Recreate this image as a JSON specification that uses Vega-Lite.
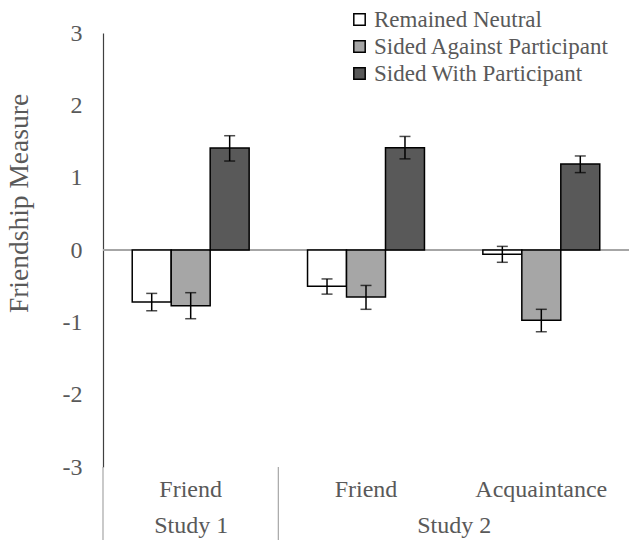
{
  "$schema": "https://vega.github.io/schema/vega-lite/v6.json",
  "width": 526,
  "height": 434,
  "autosize": {"type": "none"},
  "padding": {"left": 103, "top": 33, "right": 0, "bottom": 73},
  "config": {
    "view": {"stroke": null},
    "font": "Liberation Serif",
    "axis": {"labelFont": "Liberation Serif", "titleFont": "Liberation Serif", "labelColor": "#595959", "titleColor": "#595959", "grid": false},
    "legend": {"labelFont": "Liberation Serif"}
  },
  "datasets": {
    "bars": [
      {"cat": "Study 1|Friend", "series": "Remained Neutral", "value": -0.72, "lo": -0.84, "hi": -0.60},
      {"cat": "Study 1|Friend", "series": "Sided Against Participant", "value": -0.77, "lo": -0.95, "hi": -0.59},
      {"cat": "Study 1|Friend", "series": "Sided With Participant", "value": 1.41, "lo": 1.23, "hi": 1.58},
      {"cat": "Study 2|Friend", "series": "Remained Neutral", "value": -0.50, "lo": -0.61, "hi": -0.40},
      {"cat": "Study 2|Friend", "series": "Sided Against Participant", "value": -0.65, "lo": -0.82, "hi": -0.49},
      {"cat": "Study 2|Friend", "series": "Sided With Participant", "value": 1.415, "lo": 1.26, "hi": 1.57},
      {"cat": "Study 2|Acquaintance", "series": "Remained Neutral", "value": -0.06, "lo": -0.17, "hi": 0.05},
      {"cat": "Study 2|Acquaintance", "series": "Sided Against Participant", "value": -0.97, "lo": -1.13, "hi": -0.82},
      {"cat": "Study 2|Acquaintance", "series": "Sided With Participant", "value": 1.19, "lo": 1.07, "hi": 1.30}
    ],
    "studies": [
      {"boundary": 0},
      {"boundary": 1}
    ]
  },
  "layer": [
    {
      "data": {"name": "bars"},
      "encoding": {
        "x": {
          "field": "cat", "type": "nominal", "sort": null,
          "scale": {"paddingInner": 0.333, "paddingOuter": 0.1667},
          "axis": {"title": null, "labelExpr": "split(datum.label, '|')[1]", "labelAngle": 0, "ticks": false, "domain": false, "labelFontSize": 24, "labelPadding": 10}
        },
        "xOffset": {
          "field": "series", "type": "nominal",
          "sort": ["Remained Neutral", "Sided Against Participant", "Sided With Participant"],
          "scale": {"paddingInner": 0, "paddingOuter": 0}
        }
      },
      "layer": [
        {
          "mark": {"type": "rule", "color": "#a6a6a6", "strokeWidth": 1.5},
          "encoding": {
            "x": null, "xOffset": null,
            "y": {"datum": 0, "type": "quantitative", "scale": {"domain": [-3, 3], "nice": false}}
          }
        },
        {
          "mark": {"type": "bar", "stroke": "black", "strokeWidth": 1.5},
          "encoding": {
            "y": {
              "field": "value", "type": "quantitative",
              "scale": {"domain": [-3, 3], "nice": false},
              "axis": {"values": [-3, -2, -1, 0, 1, 2, 3], "labelExpr": "datum.value < 0 ? '-' + abs(datum.value) : '' + datum.value", "ticks": false, "domainColor": "#404040", "domainWidth": 1.2, "labelFontSize": 24, "labelPadding": 21, "title": "Friendship Measure", "titleFontSize": 27.5, "titleFontWeight": "normal", "titleX": -70, "titleY": 170, "titleAngle": -90, "titleAlign": "center", "titleBaseline": "bottom"}
            },
            "fill": {
              "field": "series", "type": "nominal",
              "scale": {"domain": ["Remained Neutral", "Sided Against Participant", "Sided With Participant"], "range": ["#ffffff", "#a6a6a6", "#595959"]},
              "legend": {"title": null, "orient": "none", "legendX": 245, "legendY": -25, "symbolType": "square", "symbolSize": 130, "symbolStrokeColor": "black", "symbolStrokeWidth": 1.5, "symbolOpacity": 1, "labelFontSize": 23, "labelColor": "#595959", "labelOffset": 3, "rowPadding": 3, "labelLimit": 400}
            }
          }
        },
        {
          "mark": {"type": "rule", "color": "black", "strokeWidth": 1.5},
          "encoding": {
            "y": {"field": "lo", "type": "quantitative"},
            "y2": {"field": "hi"}
          }
        },
        {
          "mark": {"type": "tick", "color": "black", "thickness": 1.5, "size": 11, "orient": "horizontal"},
          "encoding": {"y": {"field": "lo", "type": "quantitative"}}
        },
        {
          "mark": {"type": "tick", "color": "black", "thickness": 1.5, "size": 11, "orient": "horizontal"},
          "encoding": {"y": {"field": "hi", "type": "quantitative"}}
        }
      ]
    },
    {
      "data": {"name": "studies"},
      "mark": {"type": "rule", "color": "#a6a6a6", "strokeWidth": 1.2, "clip": false},
      "encoding": {
        "x": {
          "field": "boundary", "type": "quantitative",
          "scale": {"domain": [0, 3], "nice": false, "zero": false},
          "axis": {"title": null, "orient": "bottom", "offset": 46, "values": [0.5, 2], "labelExpr": "datum.value == 0.5 ? 'Study 1' : 'Study 2'", "ticks": false, "domain": false, "labelFontSize": 24, "labelPadding": 0, "labelFlush": false}
        },
        "y": {"datum": -3, "type": "quantitative", "scale": {"domain": [-3, 3], "nice": false}},
        "y2": {"datum": -4.1}
      }
    }
  ],
  "resolve": {"scale": {"x": "independent"}, "axis": {"x": "independent"}}
}
